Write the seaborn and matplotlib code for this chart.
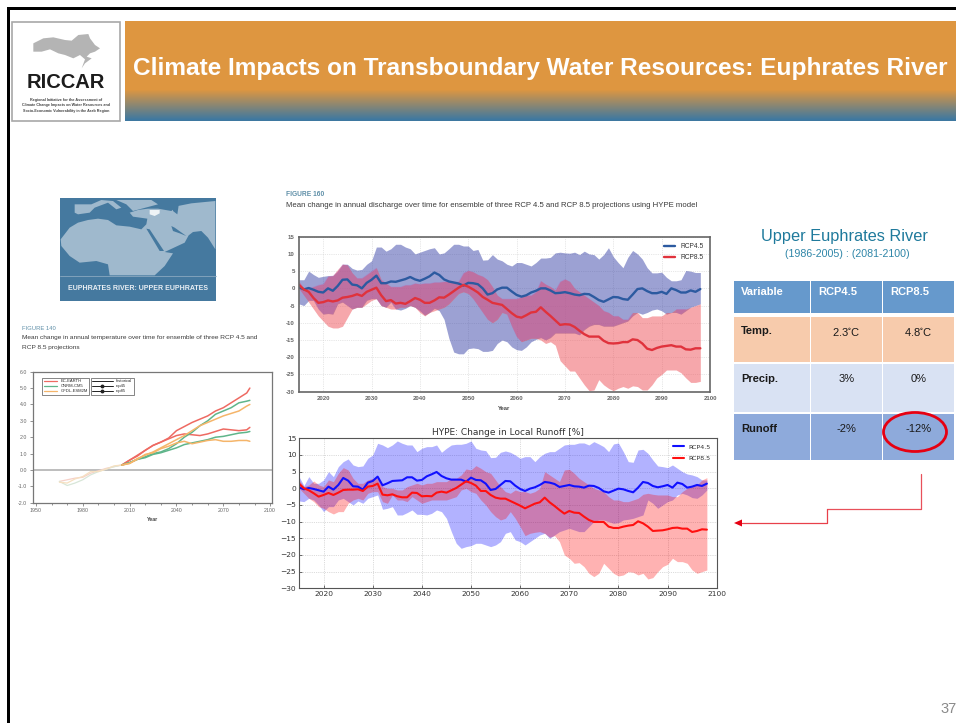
import numpy as np
import pandas as pd
import matplotlib
matplotlib.use("Agg")
import matplotlib.pyplot as plt
from matplotlib.lines import Line2D
from matplotlib.patches import Rectangle, Ellipse, Polygon
import seaborn as sns

W, H = 956, 723
years = list(range(2015, 2099))

# Lower chart: HYPE change in local runoff
run45_mean = [0.3,-0.3,0.1,-0.2,-0.6,-1.0,0.5,-0.4,1.0,3.1,2.3,0.6,0.5,-0.4,1.7,2.2,3.5,0.9,1.5,2.2,2.3,2.4,3.3,3.3,2.3,2.5,3.6,4.2,4.9,3.7,3.0,2.6,2.6,2.6,2.0,3.2,2.5,2.4,1.4,-0.5,-0.2,1.0,2.2,2.1,0.8,-0.2,-0.8,-0.1,0.3,1.0,1.9,1.7,1.3,0.4,0.7,1.0,0.6,0.5,0.2,0.8,0.7,0.1,-0.9,-1.3,-0.7,-0.1,-0.3,-0.8,-1.2,0.2,1.9,1.6,0.7,0.3,0.6,1.0,0.2,1.7,1.3,0.2,0.5,1.0,0.7,1.4]
run85_mean = [1.4,0.0,-0.6,-1.5,-2.5,-2.0,-1.4,-2.0,-1.3,-0.5,-0.4,-0.4,-0.3,-0.8,0.5,0.7,1.4,-1.9,-2.1,-1.8,-2.4,-2.7,-2.7,-1.3,-1.4,-2.4,-2.3,-2.4,-1.3,-1.0,-1.3,-0.6,0.1,1.1,2.1,1.6,0.8,-0.8,-0.8,-2.0,-2.8,-3.1,-3.1,-3.8,-4.5,-5.2,-6.0,-5.3,-4.6,-4.2,-2.8,-4.2,-5.3,-6.5,-7.6,-6.8,-7.3,-7.4,-8.5,-9.5,-10.1,-10.1,-10.1,-11.5,-11.9,-11.9,-11.5,-11.2,-11.0,-9.9,-10.5,-11.5,-12.8,-12.7,-12.6,-12.3,-11.9,-11.8,-12.1,-12.1,-13.1,-12.8,-12.3,-12.4]
run45_hi = [3.5,0.8,3.5,1.5,1.5,2.5,5,3.5,6.5,8,8.8,7,6.5,6.7,9,10,13.5,13,12.2,13,14.2,13.5,13,13,11,12,12.5,12.5,13,10.8,12,13,13.2,13.2,13.5,14.2,12,11.5,11.3,9.2,9.3,10.8,11.2,10.8,10,9,9.5,9.5,8,9.5,10.5,11,11,12,13,13.2,13.2,13.6,13.6,13,14,13.3,12.5,11,13.3,13.6,11,8,7.8,11.5,11.7,10.5,8.5,6.7,6.5,6.2,7,6,5,4.3,4.0,3.5,2.5,2.5]
run45_lo = [-3.8,-4,-3,-3.5,-5,-7,-5.5,-5.5,-3.5,-3,-4,-5,-3.8,-4.5,-3,-2.5,-2,-6.3,-6,-5.5,-8,-8,-7.3,-6.5,-7.8,-7.8,-8,-7.5,-6.5,-7,-9,-13,-16.5,-18,-17.5,-17.2,-16.5,-16.5,-17,-17.5,-17,-16,-13.5,-13,-15.5,-16,-17,-16,-15,-14,-13.5,-15,-14,-13,-12.5,-12,-12.5,-13,-13,-11.5,-10,-9.5,-9.5,-10,-10.5,-10.3,-9.5,-9.3,-9,-8.5,-8,-3.5,-4.5,-6,-5,-4,-3.5,-2,-1.5,-2,-2.8,-3,-2,-0.5]
run85_hi = [2.5,0.5,1,2.2,1,0.5,2.5,2,4.5,6.2,5.5,3,1.5,1.5,2.5,3,3,0.5,0,0,-0.5,-0.5,0.5,1,1.5,1,1.5,1.5,2,2,2,3,3,4,5.8,5.5,6.8,6,5,4.5,2.5,0.5,-1,-1.5,-0.5,-1,-1,-1.5,-1,0,5,4,3,2,5.5,5.7,4.5,3,2,1,0,-0.5,-1,-2.5,-3.5,-3.5,-4,-4,-3.5,-3,-1.8,-1.5,-1.8,-2,-2,-2,-2.5,-2.5,-1,0,0.5,1,2.5,3.2]
run85_lo = [0,-1.5,-3,-4,-5.5,-6,-7,-7.7,-7,-7,-4.5,-3.5,-3,-3.5,-1.5,-1,-1,-4,-4.5,-2,-3.5,-3.5,-4,-2.5,-3.5,-4.5,-4,-3.5,-3.5,-3.5,-3.5,-3,-2.5,-0.5,0,-1,-1.5,-3.5,-5,-7,-8.5,-9.5,-9,-7,-9,-11.5,-14.2,-13.5,-13.2,-13,-13.5,-14.7,-14.2,-16,-20,-21,-22.5,-22.3,-23.5,-25.5,-26.5,-25.5,-22.5,-24,-25.5,-26.3,-26,-25,-25.2,-26,-25.5,-27.2,-26.8,-25,-23.5,-22.8,-21,-22,-22,-22.5,-24.5,-25.5,-25,-24.5]

# Upper chart: mean change in annual discharge
dis45_mean = [0.3,-0.3,0.1,-0.4,-1,-1.2,0,-0.7,0.7,2.5,2.6,1.1,0.9,0,1.6,2.5,3.7,1.5,1.5,2,1.9,2.3,2.7,3.3,2.6,2.2,2.8,3.5,4.6,3.9,2.6,2.0,1.7,1.4,0.8,1.6,1.5,1.2,0,-1.8,-1.4,-0.3,0.2,0.2,-0.9,-1.9,-2.4,-2,-1.2,-0.7,0,0,-0.6,-1.4,-1.3,-1.1,-1.4,-1.8,-2,-1.6,-1.7,-2.5,-3.4,-3.9,-3.2,-2.5,-2.6,-3.1,-3.3,-1.8,-0.2,0,-0.8,-1.4,-1.4,-1,-1.6,0,-0.5,-1.2,-1.2,-0.6,-1,-0.2]
dis85_mean = [1.0,-0.3,-1,-2.8,-4.2,-4,-3.5,-3.8,-3.5,-2.7,-2.5,-2.2,-1.7,-2.2,-1,-0.4,0.2,-2,-3.7,-3.4,-4.4,-4.2,-4.5,-3.7,-2.8,-3.3,-4.2,-4.2,-3.5,-2.6,-2.7,-1.8,-0.8,0.2,1.0,0.5,-0.3,-1.2,-2.5,-3.3,-4.2,-4.5,-4.8,-6,-7.2,-8.2,-8.5,-7.8,-7,-6.8,-5.5,-6.8,-8,-9.3,-10.6,-10.4,-10.5,-11.2,-12.3,-13.3,-14,-14,-14,-15.2,-15.9,-16,-15.9,-15.6,-15.6,-14.8,-15,-16,-17.5,-17.9,-17.3,-16.9,-16.7,-16.5,-16.9,-16.9,-17.7,-17.8,-17.4,-17.4]
dis45_hi = [2.5,2.5,5,4,3.2,3.5,3.7,3.7,5,7,7,5.8,5.3,5.5,7,8,12,12,10.8,11.5,12.8,12.8,12,11.5,10,10.5,11,11.5,11.8,10,10.3,11.5,12.8,12.8,12.3,12.3,11,11.3,8.2,8.3,9.8,8.5,8,7,6.5,7.5,7.5,7,6.5,7.5,8.8,8.8,9,10.3,10.5,10.3,10.2,10.5,9.8,10.8,10,9.8,8.5,9.8,11.8,9.2,7.5,6,9,11,10,8.5,6,4.5,4.5,4.7,3.2,2.2,2.2,2.5,5.2,5,4.6,4.6]
dis45_lo = [-4.5,-5,-3.5,-3.5,-6,-7.5,-7.3,-7.5,-4.5,-4,-5,-6,-5.5,-5.5,-3.5,-3,-3,-5,-5.5,-4,-6,-6.3,-5.8,-5,-5.5,-6.5,-7.8,-7,-5.8,-6.5,-9,-14.5,-18.5,-19,-19,-17.5,-17.3,-17.5,-18.3,-18.3,-18,-16,-15,-15.5,-17,-17.8,-18,-17,-15.5,-14.8,-14.3,-15,-14.3,-13,-13,-13,-13,-13,-13.5,-12,-11,-10.5,-10.5,-11,-11,-11,-10.5,-10,-9.5,-8,-7,-7.5,-7,-6.3,-6,-6.5,-7.5,-7,-7,-7.5,-6.5,-5.5,-5,-4.5]
dis85_hi = [2,0,0,0.5,1,1.3,3.5,3.7,5.5,7,6.8,4.5,3,3,4,5,6,2.5,1.5,0.5,0.5,0.5,1,1,1.5,1.3,1.5,1.5,1.8,1.8,2,2,2,2,4.5,5.2,4.8,4,3.5,2.5,0.5,-2,-3,-3,-3,-3,-2.5,-2,-2,-1,2.2,1.2,0.5,-0.5,2,2.7,2,0,-1,-2,-3,-4,-5,-6.5,-7,-8,-8,-9,-9,-7,-7,-8.5,-8.5,-8,-8,-8,-7,-7,-6,-6,-6,-5.5,-5,-4.5]
dis85_lo = [0,-2,-4,-6,-8,-9.5,-11,-11.5,-11.5,-11,-8.5,-6,-5.5,-5.5,-4.5,-3.5,-3,-5,-5.5,-6,-6,-5.5,-5.5,-5,-5.5,-7,-8,-7,-6.5,-6,-5.5,-4.5,-3,-1.5,-1,-1.5,-3,-5,-7,-9,-10,-9,-7,-7.5,-11,-14,-15.5,-15,-14.5,-14.5,-15,-16,-15.5,-16.5,-21,-22.5,-24,-24,-26,-28,-29.7,-29.5,-26.5,-28,-29,-29.7,-29,-28.5,-29,-28.3,-28.5,-29.5,-29.5,-28,-26,-25,-23.7,-23.7,-23.7,-24.5,-26,-27.3,-27.3,-27]

# Left chart: mean change in annual temperature
hist_years = [1965,1970,1975,1980,1985,1990,1995,2000,2005]
hist_ec = [-0.7,-0.6,-0.5,-0.45,-0.2,-0.05,0.1,0.2,0.3]
hist_cn = [-0.7,-0.95,-0.8,-0.6,-0.3,-0.1,0.05,0.2,0.3]
hist_gf = [-0.75,-0.8,-0.55,-0.4,-0.1,-0.1,0.05,0.25,0.3]
proj_years = [2005,2010,2015,2020,2025,2030,2035,2040,2045,2050,2055,2060,2065,2070,2075,2080,2085,2087]
ec_85 = [0.3,0.6,0.9,1.2,1.5,1.7,1.95,2.4,2.65,2.9,3.1,3.3,3.6,3.8,4.1,4.4,4.7,5.0]
ec_45 = [0.3,0.6,0.85,1.2,1.5,1.7,1.9,2.1,2.2,2.15,2.1,2.2,2.35,2.5,2.45,2.4,2.45,2.6]
cn_85 = [0.3,0.45,0.65,0.8,1.0,1.1,1.3,1.6,2.0,2.3,2.7,3.0,3.4,3.6,3.8,4.1,4.2,4.25]
cn_45 = [0.3,0.45,0.65,0.75,0.95,1.05,1.2,1.35,1.55,1.65,1.75,1.85,2.0,2.05,2.15,2.25,2.3,2.35]
gf_85 = [0.3,0.4,0.7,0.9,1.1,1.35,1.6,1.85,2.1,2.4,2.7,2.9,3.1,3.3,3.45,3.6,3.9,4.0]
gf_45 = [0.3,0.4,0.65,0.95,1.05,1.3,1.45,1.65,1.75,1.6,1.7,1.8,1.85,1.75,1.75,1.8,1.8,1.75]

# Table
table_head = ["Variable", "RCP4.5", "RCP8.5"]
table_rows = [["Temp.", "2.3$^{\\circ}$C", "4.8$^{\\circ}$C"], ["Precip.", "3%", "0%"], ["Runoff", "-2%", "-12%"]]

sns.set_theme(style="white", rc={"axes.grid": False})
plt.rcParams["font.family"] = ["Liberation Sans", "DejaVu Sans"]
plt.rcParams["mathtext.default"] = "regular"
DJ = ["DejaVu Sans"]

fig = plt.figure(figsize=(W / 100, H / 100), dpi=100, facecolor="white")

def px_axes(l, t, r, b, **kw):
    return fig.add_axes([l / W, 1 - b / H, (r - l) / W, (b - t) / H], **kw)

# Slide layer in pixel coordinates
bg = px_axes(0, 0, W, H)
bg.set_xlim(0, W); bg.set_ylim(H, 0); bg.axis("off")
bg.add_patch(Rectangle((7.5, 7), W, 2.5, color="black", lw=0))
bg.add_patch(Rectangle((7.5, 7), 2.5, H, color="black", lw=0))

# Header band
orange = np.array([222, 150, 64]) / 255
blue = np.array([62, 120, 160]) / 255
for i in range(100):
    t = min(max((i - 68) / 30, 0), 1)
    bg.add_patch(Rectangle((125, 21 + i), W - 125, 1, color=orange * (1 - t) + blue * t, lw=0, zorder=1))
bg.text(133, 68, "Climate Impacts on Transboundary Water Resources: Euphrates River",
        color="white", fontsize=17.6, fontweight="bold", va="center", ha="left", zorder=3)

# Logo
def logo_pts(pts):
    return [(x / 3 + 10, y / 3 + 20) for x, y in pts]

def map_pts(pts):
    return [(x / 3 + 58, y / 3 + 196) for x, y in pts]

bg.add_patch(Rectangle((12.5, 22), 108, 98.5, fc="white", ec="#a8a8a8", lw=1.2))
arab = [(70,70),(100,55),(130,52),(165,60),(185,62),(205,45),(235,42),(240,55),(255,75),(270,85),(255,95),(240,100),(230,110),(245,115),(225,130),(215,145),(225,118),(210,105),(190,115),(165,105),(145,100),(120,88),(95,95),(70,95)]
bg.add_patch(Polygon(logo_pts(arab), fc="#b4b4b4", ec="none"))
bg.text(66, 82, "RICCAR", color="#1c1c1c", fontsize=14.5, fontweight="bold", ha="center", va="center")
for yy, s in zip([99.5, 105, 110.7], ["Regional Initiative for the Assessment of",
                                      "Climate Change Impacts on Water Resources and",
                                      "Socio-Economic Vulnerability in the Arab Region"]):
    bg.text(66, yy, s, fontsize=2.7, fontweight="bold", color="#444444", ha="center", va="center")

# Map
sea = "#45799f"
land = "#9fb9cd"
bg.add_patch(Rectangle((60, 198), 156, 103, color=sea, lw=0))
main_land = [(8,130),(35,95),(60,80),(90,72),(120,68),(150,72),(175,88),(215,92),(250,100),(265,85),(268,68),(225,62),(215,50),(240,42),(270,38),(300,38),(340,45),(360,30),(400,22),(472,15),(472,160),(450,125),(430,105),(405,108),(392,118),(380,140),(320,168),(345,172),(320,210),(290,238),(155,238),(150,205),(115,195),(65,200),(35,180),(10,150)]
europe_w = [(50,25),(100,25),(130,12),(165,15),(190,35),(175,40),(150,20),(110,35),(95,50),(60,55),(50,50)]
europe_e = [(175,12),(280,12),(300,25),(225,45),(205,25)]
for s in (main_land, europe_w, europe_e):
    bg.add_patch(Polygon(map_pts(s), fc=land, ec="none"))
for s in ([(265,98),(275,100),(318,165),(305,165)], [(340,90),(350,95),(385,120),(365,112),(345,105)], [(345,25),(362,28),(358,55),(345,45)]):
    bg.add_patch(Polygon(map_pts(s), fc=sea, ec="none"))
bg.add_patch(Polygon(map_pts([(275,42),(305,42),(305,52),(290,60),(275,55)]), fc="#eef3f6", ec="none"))
bg.plot([60, 216], [275.5, 275.5], color="#8aa8c0", lw=0.6)
bg.text(138, 288, "EUPHRATES RIVER: UPPER EUPHRATES", color="#e8eef3", fontsize=5.0, fontweight="bold",
        ha="center", va="center")
bg.set_xlim(0, W); bg.set_ylim(H, 0)

# Figure captions
bg.text(22, 328, "FIGURE 140", color="#5f8fa8", fontsize=4.2, va="center")
bg.text(22, 338, "Mean change in annual temperature over time for ensemble of three RCP 4.5 and",
        color="#3a3a3a", fontsize=4.65, va="center")
bg.text(22, 348, "RCP 8.5 projections", color="#3a3a3a", fontsize=4.65, va="center")
bg.text(286, 194, "FIGURE 160", color="#5f8fa8", fontsize=4.8, fontweight="bold", va="center")
bg.text(286, 205.5, "Mean change in annual discharge over time for ensemble of three RCP 4.5 and RCP 8.5 projections using HYPE model",
        color="#3a3a3a", fontsize=5.55, va="center")

# Table
bg.text(844, 236, "Upper Euphrates River", color="#1f7a9c", fontsize=11.8, ha="center", va="center")
bg.text(847, 254, "(1986-2005) : (2081-2100)", color="#2f86a8", fontsize=7.7, ha="center", va="center")
col_x = [(734, 810), (811, 882), (883, 954)]
row_y = [(281, 313), (317, 362), (364, 412), (414, 460)]
row_c = ["#6699cc", "#f7cbac", "#d9e2f3", "#8eaadb"]
rows_all = [table_head] + table_rows
for ri, ((y0, y1), c) in enumerate(zip(row_y, row_c)):
    for ci, (x0, x1) in enumerate(col_x):
        bg.add_patch(Rectangle((x0, y0), x1 - x0, y1 - y0, color=c, lw=0))
        txt = rows_all[ri][ci]
        bold = ri == 0 or ci == 0
        col = "white" if ri == 0 else "#1a1a1a"
        tx = x0 + 7 if ci == 0 or ri == 0 else (x0 + x1) / 2
        ha = "left" if ci == 0 or ri == 0 else "center"
        bg.text(tx, y0 + 11 if ri == 0 else y0 + 14.5, txt, color=col, fontsize=8,
                fontweight="bold" if bold else "normal", ha=ha, va="center")
bg.add_patch(Ellipse((915, 432), 63, 39, fc="none", ec="#e60012", lw=2))
bg.plot([921.5, 921.5, 827.5], [474, 509, 509], color="#e8505a", lw=0.9)
bg.plot([827.5, 827.5, 742], [509, 523, 523], color="#e8404a", lw=0.9)
bg.add_patch(Polygon([(734, 523), (742, 519.5), (742, 526.5)], fc="#e60012", ec="none"))
bg.text(957, 709, "37", color="#8a8a8a", fontsize=10.5, ha="right", va="center")

# Upper chart
top = px_axes(299, 236.7, 710, 391.7)
top.fill_between(years, dis45_lo, dis45_hi, color="#3a44a8", alpha=0.5, lw=0)
top.fill_between(years, dis85_lo, dis85_hi, color="#ee5058", alpha=0.5, lw=0)
top.fill_between(years, np.maximum(dis45_lo, dis85_lo), np.minimum(dis45_hi, dis85_hi),
                 where=np.maximum(dis45_lo, dis85_lo) < np.minimum(dis45_hi, dis85_hi),
                 color="#b060c0", alpha=0.3, lw=0)
top_df = pd.DataFrame({"Year": years * 2, "v": dis45_mean + dis85_mean,
                       "s": ["RCP4.5"] * 84 + ["RCP8.5"] * 84})
sns.lineplot(data=top_df, x="Year", y="v", hue="s", palette=["#2c5aa0", "#e0323c"], lw=1.7, ax=top, errorbar=None)
top.set_xlim(2015, 2100); top.set_ylim(-30, 15)
top.set_xticks(range(2020, 2101, 10)); top.set_yticks(range(-30, 16, 5))
top.set_yticklabels([str(v) for v in range(-30, 16, 5)])
top.grid(True, ls=":", color="#d0d0d0", lw=0.5)
top.set_axisbelow(True)
top.tick_params(labelsize=4.4, colors="#666666", length=0, pad=3)
for lab in top.get_xticklabels() + top.get_yticklabels():
    lab.set_fontweight("bold")
top.set_xlabel("Year", fontsize=4.2, fontweight="bold", color="#444444", labelpad=4)
top.set_ylabel("")
for s in top.spines.values():
    s.set_color("#666666"); s.set_linewidth(1.2); s.set_visible(True)
top.legend(loc="upper right", frameon=False, fontsize=4.8, handlelength=1.6, labelspacing=0.55,
           borderaxespad=0.6, handletextpad=0.8, labelcolor="#333333", title=None)

# Lower chart
low = px_axes(299, 438.3, 716.7, 588.3)
low.fill_between(years, run45_lo, run45_hi, color="blue", alpha=0.3, lw=0)
low.fill_between(years, run85_lo, run85_hi, color="red", alpha=0.3, lw=0)
low_df = pd.DataFrame({"Year": years * 2, "v": run45_mean + run85_mean,
                       "s": ["RCP4.5"] * 84 + ["RCP8.5"] * 84})
sns.lineplot(data=low_df, x="Year", y="v", hue="s", palette=["#1010ff", "#ff1010"], lw=1.5, ax=low, errorbar=None)
low.set_xlim(2015, 2100); low.set_ylim(-30, 15)
low.set_xticks(range(2020, 2101, 10)); low.set_yticks(range(-30, 16, 5))
low.grid(True, ls=":", color="#bbbbbb", lw=0.5)
low.tick_params(labelsize=5.4, colors="#333333", length=2, width=0.5, pad=2, direction="in", left=True, bottom=True)
for lab in low.get_xticklabels() + low.get_yticklabels():
    lab.set_family(DJ)
low.set_title("HYPE: Change in Local Runoff [%]", fontsize=6.5, family=DJ, color="#333333", pad=2.5)
low.set_xlabel(""); low.set_ylabel("")
for s in low.spines.values():
    s.set_color("#555555"); s.set_linewidth(0.8); s.set_visible(True)
low.legend(loc="upper right", frameon=False, prop={"size": 4.6, "family": DJ}, handlelength=1.7, labelspacing=0.9,
           borderaxespad=0.5, handletextpad=0.8, labelcolor="#333333", title=None)

# Left chart
lft = px_axes(32.7, 371.7, 271.7, 502.7)
c_ec, c_cn, c_gf = "#ee6a62", "#5fb58a", "#f5b56a"
p_ec, p_cn, p_gf = "#f6d0c8", "#d8e6d8", "#f6e0c0"
for vals, c in zip([hist_ec, hist_cn, hist_gf], [p_ec, p_cn, p_gf]):
    sns.lineplot(x=hist_years, y=vals, color=c, lw=0.9, ax=lft, errorbar=None)
for vals, c in zip([ec_85, ec_45, cn_85, cn_45, gf_85, gf_45], [c_ec, c_ec, c_cn, c_cn, c_gf, c_gf]):
    sns.lineplot(x=proj_years, y=vals, color=c, lw=1.1, ax=lft, errorbar=None)
lft.axhline(0, color="#b8b8b8", lw=1.3, zorder=0)
lft.set_xlim(1947.9, 2101); lft.set_ylim(-2, 6)
lft.set_xticks(range(1950, 2101, 30)); lft.set_xticks(range(1950, 2101, 10), minor=True)
lft.set_yticks(range(-2, 7)); lft.set_yticklabels([f"{v:.1f}" for v in range(-2, 7)])
lft.tick_params(labelsize=3.8, colors="#666666", length=2, width=0.5, pad=2, left=True, bottom=True)
lft.tick_params(which="minor", length=1.5, width=0.5, bottom=True, color="#666666")
lft.set_xlabel("Year", fontsize=3.8, fontweight="bold", color="#444444", labelpad=3)
for s in lft.spines.values():
    s.set_color("#777777"); s.set_linewidth(0.9); s.set_visible(True)
h1 = [Line2D([], [], color=c, lw=0.9) for c in (c_ec, c_cn, c_gf)]
leg1 = lft.legend(h1, ["EC-EARTH", "CNRM-CM5", "GFDL-ESM2M"], loc="upper left", bbox_to_anchor=(0.04, 0.955),
                  fontsize=3, frameon=True, fancybox=False, edgecolor="#555555", framealpha=1,
                  handlelength=3.2, labelspacing=0.25, borderpad=0.35, borderaxespad=0)
leg1.get_frame().set_linewidth(0.5)
lft.add_artist(leg1)
h2 = [Line2D([], [], color="#222222", lw=0.7),
      Line2D([], [], color="#222222", lw=0.7, marker="o", ms=1.8),
      Line2D([], [], color="#222222", lw=0.7, marker="o", ms=1.8)]
leg2 = lft.legend(h2, ["historical", "rcp45", "rcp85"], loc="upper left", bbox_to_anchor=(0.242, 0.955),
                  fontsize=3, frameon=True, fancybox=False, edgecolor="#555555", framealpha=1,
                  handlelength=5, labelspacing=0.25, borderpad=0.35, borderaxespad=0)
leg2.get_frame().set_linewidth(0.5)

fig.savefig("out.png", dpi=100, facecolor="white")
